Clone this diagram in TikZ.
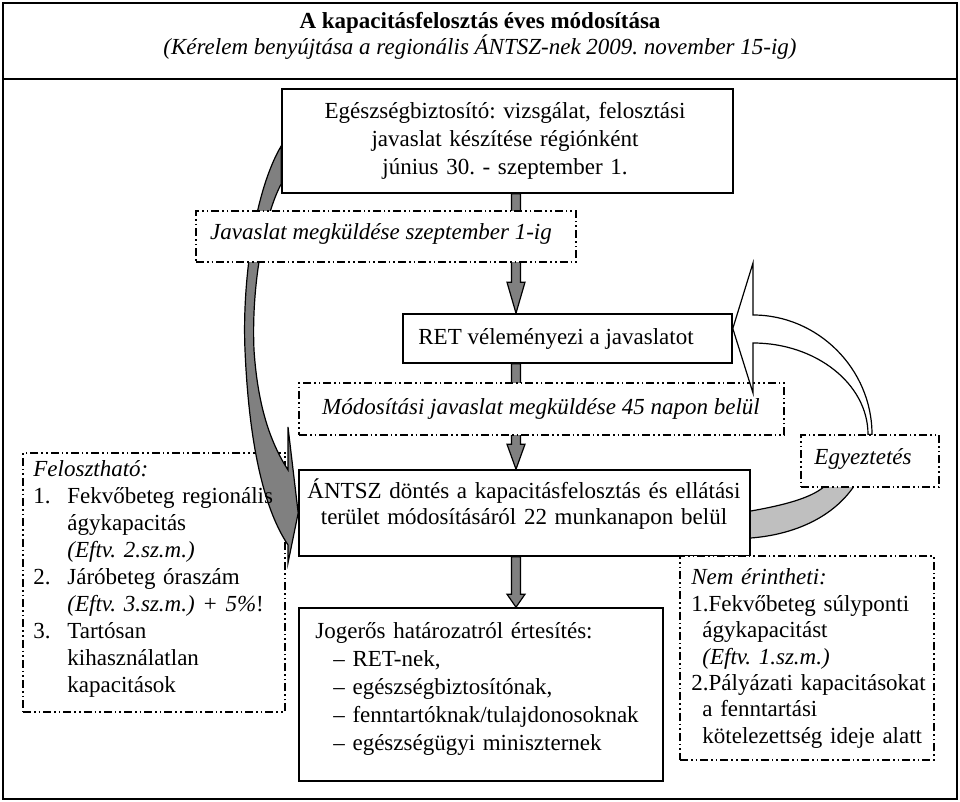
\documentclass[tikz,border=0pt]{standalone}
\usepackage{fontspec}
\setmainfont{Liberation Serif}
\usetikzlibrary{calc,backgrounds}
\def\grayarrow#1#2#3{%
  \filldraw[grayblock] ($(#1)+(-4.5,0)$) -- ($(#2)+(-4.5,-#3)$) -- ++(-4.5,0) -- (#2)
    -- ++(9,-#3) -- ++(-4.5,0) -- ($(#1)+(4.5,0)$) -- cycle;}

\begin{document}
\frenchspacing
\begin{tikzpicture}[x=0.5pt,y=-0.5pt,
  box/.style={draw,line width=0.8pt,fill=white,inner sep=0pt},
  dashbox/.style={draw,line width=0.6pt,inner sep=0pt,
    dash pattern=on 4pt off 1.5pt on 0.8pt off 1.5pt on 0.8pt off 1.5pt},
  txt/.style={inner sep=0pt},
  grayblock/.style={draw,line width=0.6pt,fill=gray},
  whiteblock/.style={draw,line width=0.6pt,fill=white},
  lightblock/.style={draw,line width=0.6pt,fill=gray!50}]
\fontsize{11.5}{13.5}\selectfont
\useasboundingbox (0,0) rectangle (960,802);
\draw[line width=1.2pt] (3,3) rectangle (957,799);
\draw[line width=1.2pt] (3,79) -- (957,79);

\node[box,minimum width=225.5pt,minimum height=52pt]		(egb)	at (507.5,141)	{};
\node[dashbox,fill=white,minimum width=190pt,minimum height=25.5pt]	(jav)	at (386,236.5)	{};
\node[box,minimum width=164.5pt,minimum height=24.5pt]		(ret)	at (567.5,338.5)	{};
\node[dashbox,fill=white,minimum width=242.5pt,minimum height=26pt]	(mod)	at (541.5,409)	{};
\node[box,minimum width=225.5pt,minimum height=43pt]		(antsz)	at (524.5,513)	{};
\node[box,minimum width=182pt,minimum height=86.5pt]		(jog)	at (481,694.5)	{};
\node[dashbox,fill=white,minimum width=127pt,minimum height=102pt]	(nem)	at (807,658)	{};
\node[dashbox,fill=white,minimum width=69pt,minimum height=26pt]	(egy)	at (870,461)	{};

\begin{scope}[on background layer]
\node[dashbox,minimum width=131pt,minimum height=129.5pt]	(felo)	at (154,582.5)	{};
\coordinate (axis) at (516,0);
\grayarrow{axis |- egb.south}{axis |- ret.north}{31}
\grayarrow{axis |- ret.south}{axis |- antsz.north}{25}
\grayarrow{axis |- antsz.south}{axis |- jog.north}{13}
% bal oldali ives nyil
\filldraw[grayblock] ($(egb.west)+(0,5)$)
  .. controls (255,190) and (242,280) .. (245,350)
  .. controls (248,420) and (258,500) .. (288,545)
  -- (288,563) -- (antsz.west) -- (288,427) -- (288,470)
  .. controls (272,445) and (258,410) .. (254,350)
  .. controls (251,280) and (266,212) .. ($(egb.west)+(0,43)$) -- cycle;
\filldraw[lightblock] ($(antsz.east)+(-4,-2)$) -- ($(antsz.east)+(0,-2)$)
  .. controls (785,505) and (810,498) .. ($(egy.south)+(-47,0)$) -- ($(egy.south)+(-47,-4)$)
  -- ($(egy.south)+(-17,-4)$) -- ($(egy.south)+(-17,0)$)
  .. controls (830,520) and (790,535) .. ($(antsz.east)+(0,25)$) -- ($(antsz.east)+(-4,25)$) -- cycle;
\end{scope}

% egyeztetes -> RET
\filldraw[whiteblock] ($(egy.north)+(2,0)$) .. controls (872,369) and (818,315) .. (753,315)
  -- (753,263) -- ($(ret.east)+(0,-10)$) -- (753,393) -- (753,343)
  .. controls (816,343) and (868,384) .. ($(egy.north)+(-2,0)$) -- cycle;

\node[txt,anchor=base,font=\bfseries]	(title)		at (480,29)	{A kapacitásfelosztás éves módosítása};
\node[txt,anchor=base,font=\itshape]	(subtitle)	at (480,55)	{(Kérelem benyújtása a regionális ÁNTSZ-nek 2009. november 15-ig)};
\node[txt,anchor=base,text width=210pt,align=center,font=\fontsize{11.5}{14}\selectfont]	(egbtxt)	at (505,119)
  {Egészségbiztosító: vizsgálat, felosztási\\javaslat készítése régiónként\\június 30. - szeptember 1.};
\node[txt,anchor=base,font=\itshape]	(javtxt)	at (381,240)	{Javaslat megküldése szeptember 1-ig};
\node[txt,anchor=base west]		(rettxt)	at (418,345)	{RET véleményezi a javaslatot};
\node[txt,anchor=base,font=\itshape]	(modtxt)	at (541,415)	{Módosítási javaslat megküldése 45 napon belül};
\node[txt,anchor=base,text width=222pt,align=center,font=\fontsize{11.5}{13}\selectfont]	(antsztxt)	at (524,499)
  {ÁNTSZ döntés a kapacitásfelosztás és ellátási\\terület módosításáról 22 munkanapon belül};
\node[txt,anchor=base west,text width=178pt,align=left,font=\fontsize{11.5}{14}\selectfont]	(jogtxt)	at (315,639)
  {Jogerős határozatról értesítés:\\
   \hspace*{9pt}– RET-nek,\\
   \hspace*{9pt}– egészségbiztosítónak,\\
   \hspace*{9pt}– fenntartóknak/tulajdonosoknak\\
   \hspace*{9pt}– egészségügyi miniszternek};
\node[txt,anchor=base west,text width=128pt,align=left,font=\fontsize{11.5}{13.5}\selectfont]	(felotxt)	at (33,477)
  {\textit{Felosztható:}\\
   \makebox[17pt][l]{1.}Fekvőbeteg regionális\\
   \hspace*{17pt}ágykapacitás\\
   \hspace*{17pt}\textit{(Eftv. 2.sz.m.)}\\
   \makebox[17pt][l]{2.}Járóbeteg óraszám\\
   \hspace*{17pt}\textit{(Eftv. 3.sz.m.) + 5\%}!\\
   \makebox[17pt][l]{3.}Tartósan\\
   \hspace*{17pt}kihasználatlan\\
   \hspace*{17pt}kapacitások};
\node[txt,anchor=base west,text width=126pt,align=left,font=\fontsize{11.5}{13.2}\selectfont]	(nemtxt)	at (691,585)
  {\textit{Nem érintheti:}\\
   1.Fekvőbeteg súlyponti\\
   \hspace*{5.5pt}ágykapacitást\\
   \hspace*{5.5pt}\textit{(Eftv. 1.sz.m.)}\\
   2.Pályázati kapacitásokat\\
   \hspace*{5.5pt}a fenntartási\\
   \hspace*{5.5pt}kötelezettség ideje alatt};
\node[txt,anchor=base,font=\itshape]	(egytxt)	at (863,465)	{Egyeztetés};
\end{tikzpicture}
\end{document}
